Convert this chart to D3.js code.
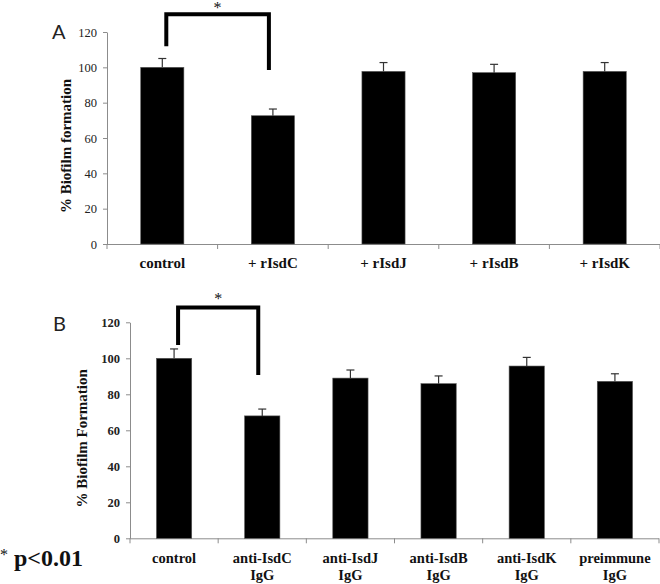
<!DOCTYPE html>
<html>
<head>
<meta charset="utf-8">
<script src="https://cdn.jsdelivr.net/npm/d3@7"></script>
<style>
  html, body { margin: 0; padding: 0; background: #fff; }
  svg { display: block; }
</style>
</head>
<body>
<svg id="chart" width="660" height="584"></svg>
<script>
// ---- data ----
const categoriesA = ["control", "+ rIsdC", "+ rIsdJ", "+ rIsdB", "+ rIsdK"];
const valuesA = [100, 72.6, 97.7, 97, 97.7];
const errorsA = [5, 3.8, 5, 4.7, 5];

const categoriesB = ["control", "anti-IsdC\nIgG", "anti-IsdJ\nIgG", "anti-IsdB\nIgG", "anti-IsdK\nIgG", "preimmune\nIgG"];
const valuesB = [100, 68, 89, 85.9, 95.7, 87.2];
const errorsB = [5.2, 3.8, 4.5, 4.3, 4.8, 4.2];

const yTicks = [0, 20, 40, 60, 80, 100, 120];
// significance brackets: [from index, to index, top level, left foot level, right foot level]
const bracketA = [0, 1, 130, 112, 98.5];
const bracketB = [0, 1, 128.2, 107.4, 90.7];

const serif = "'Liberation Serif', 'Times New Roman', serif";
const svg = d3.select("#chart");
svg.append("rect").attr("width", 660).attr("height", 584).attr("fill", "#fff");

function panel(opts) {
  const { cats, vals, errs, x0, x1, yBottom, yTop, padding, tickBold, tickSize,
          title, titleX, letter, letterX, letterY, labelY, labelSize, bracket, starDy } = opts;
  const g = svg.append("g");
  const x = d3.scaleBand().domain(cats).range([x0, x1])
    .paddingInner(padding).paddingOuter(padding / 2);
  const y = d3.scaleLinear().domain([0, 120]).range([yBottom, yTop]);
  const axisColor = "#8c8c8c";

  // y axis
  const ya = g.append("g").attr("transform", `translate(${x0},0)`)
    .call(d3.axisLeft(y).tickValues(yTicks).tickSize(4).tickSizeOuter(0).tickPadding(6));
  ya.select(".domain").attr("stroke", axisColor);
  ya.selectAll(".tick line").attr("stroke", axisColor);
  ya.selectAll(".tick text").attr("font-family", serif).attr("font-size", tickSize)
    .attr("font-weight", tickBold ? "bold" : "normal").attr("fill", "#222");

  // x axis line with ticks at category boundaries
  g.append("line").attr("x1", x0).attr("x2", x1).attr("y1", yBottom + 0.5).attr("y2", yBottom + 0.5)
    .attr("stroke", axisColor);
  const step = x.step();
  const bounds = d3.range(cats.length + 1).map(i => x0 + i * step);
  g.selectAll("line.xt").data(bounds).join("line").attr("class", "xt")
    .attr("x1", d => d).attr("x2", d => d).attr("y1", yBottom).attr("y2", yBottom + 5)
    .attr("stroke", axisColor);

  // bars
  g.selectAll("rect.bar").data(vals).join("rect").attr("class", "bar")
    .attr("x", (d, i) => x(cats[i])).attr("width", x.bandwidth())
    .attr("y", d => y(d)).attr("height", d => yBottom - y(d))
    .attr("fill", "#000").attr("stroke", "#555").attr("stroke-width", 0.6);

  // error bars (upper only)
  const eg = g.selectAll("g.err").data(vals).join("g").attr("class", "err");
  eg.append("line")
    .attr("x1", (d, i) => x(cats[i]) + x.bandwidth() / 2).attr("x2", (d, i) => x(cats[i]) + x.bandwidth() / 2)
    .attr("y1", d => y(d)).attr("y2", (d, i) => y(d + errs[i]))
    .attr("stroke", "#333").attr("stroke-width", 1.2);
  eg.append("line")
    .attr("x1", (d, i) => x(cats[i]) + x.bandwidth() / 2 - 4).attr("x2", (d, i) => x(cats[i]) + x.bandwidth() / 2 + 4)
    .attr("y1", (d, i) => y(d + errs[i])).attr("y2", (d, i) => y(d + errs[i]))
    .attr("stroke", "#333").attr("stroke-width", 1.2);

  // category labels
  g.selectAll("text.xl").data(cats).join("text").attr("class", "xl")
    .attr("x", d => x(d) + x.bandwidth() / 2).attr("y", labelY)
    .attr("text-anchor", "middle").attr("font-family", serif).attr("font-weight", "bold")
    .attr("font-size", labelSize).attr("fill", "#111")
    .each(function(d) {
      const lines = d.split("\n");
      d3.select(this).selectAll("tspan").data(lines).join("tspan")
        .attr("x", x(d) + x.bandwidth() / 2).attr("dy", (l, k) => k === 0 ? 0 : 17).text(l => l);
    });

  // y title
  g.append("text")
    .attr("transform", `translate(${titleX},${(yBottom + yTop) / 2 + 8}) rotate(-90)`)
    .attr("text-anchor", "middle").attr("font-family", serif).attr("font-weight", "bold")
    .attr("font-size", 15).attr("fill", "#111").text(title);

  // panel letter
  g.append("text").attr("x", letterX).attr("y", letterY)
    .attr("font-family", "Lato, 'Open Sans', sans-serif").attr("font-size", 20).attr("fill", "#222")
    .text(letter);

  // significance bracket
  const [a, b, top, lf, rf] = bracket;
  const xa = x(cats[a]) + x.bandwidth() / 2 + 4;
  const xb = x(cats[b]) + x.bandwidth() / 2 - 4;
  g.append("path")
    .attr("d", `M${xa},${y(lf)}V${y(top)}H${xb}V${y(rf)}`)
    .attr("fill", "none").attr("stroke", "#000").attr("stroke-width", 4);
  g.append("text").attr("x", (xa + xb) / 2).attr("y", y(top) - starDy)
    .attr("text-anchor", "middle").attr("font-family", serif).attr("font-size", 16).attr("fill", "#111")
    .text("*");
}

panel({
  cats: categoriesA, vals: valuesA, errs: errorsA,
  x0: 107, x1: 660, yBottom: 244, yTop: 32, padding: 0.61,
  tickBold: false, tickSize: 12.5, title: "% Biofilm formation", titleX: 71,
  letter: "A", letterX: 52, letterY: 39, labelY: 268, labelSize: 15, bracket: bracketA, starDy: 1
});

panel({
  cats: categoriesB, vals: valuesB, errs: errorsB,
  x0: 130, x1: 659, yBottom: 538.3, yTop: 322.3, padding: 0.6,
  tickBold: true, tickSize: 12.5, title: "% Biofilm Formation", titleX: 87,
  letter: "B", letterX: 53, letterY: 331, labelY: 563, labelSize: 14.5, bracket: bracketB, starDy: 4
});

// footnote
const fn = svg.append("text").attr("x", 0).attr("y", 566).attr("font-family", serif).attr("fill", "#111");
fn.append("tspan").attr("font-size", 16).attr("dy", -6).text("*");
fn.append("tspan").attr("font-size", 24).attr("font-weight", "bold").attr("dy", 6).text(" p<0.01");
</script>
</body>
</html>
